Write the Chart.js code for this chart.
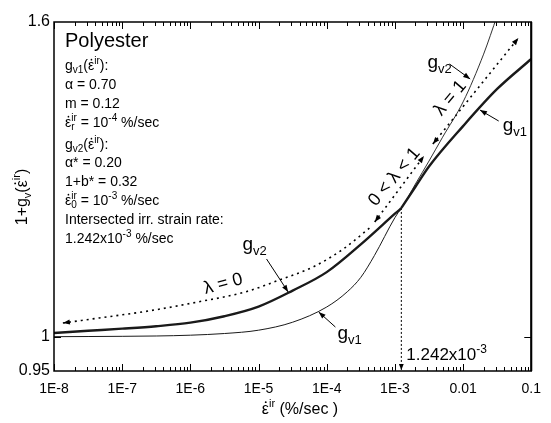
<!DOCTYPE html>
<html lang="en">
<head>
<meta charset="UTF-8">
<title>Polyester g_v</title>
<style>
  body { margin: 0; background: #fff; }
  #wrap { width: 551px; height: 423px; }
</style>
</head>
<body>
<div id="wrap"><canvas id="myChart" width="551" height="423"></canvas></div>
<script src="https://cdn.jsdelivr.net/npm/chart.js@4.4.1/dist/chart.umd.min.js"></script>
<script>
// axis ticks
const xTickValues = [1e-8, 1e-7, 1e-6, 1e-5, 1e-4, 1e-3, 1e-2, 1e-1];
const xTickLabels = ['1E-8', '1E-7', '1E-6', '1E-5', '1E-4', '1E-3', '0.01', '0.1'];
const yTickValues = [0.95, 1, 1.6];
const yTickLabels = ['0.95', '1', '1.6'];

// g_v1 (thin below the intersection, thick above it)
const gv1Rates = [1e-8, 3.16e-8, 1e-7, 3.16e-7, 1e-6, 3.16e-6, 1e-5, 3.16e-5, 1e-4, 2e-4, 3.16e-4, 5e-4, 1e-3, 1.242e-3, 2e-3, 3.16e-3, 1e-2, 3.16e-2, 1e-1];
const gv1Values = [1.0000, 1.0002, 1.0005, 1.0010, 1.0022, 1.0047, 1.0097, 1.0218, 1.0453, 1.0693, 1.0926, 1.1287, 1.1946, 1.2120, 1.2510, 1.2893, 1.3696, 1.4477, 1.5140];

// g_v2 (thick below the intersection, thin above it)
const gv2Rates = [1e-8, 3.16e-8, 1e-7, 3.16e-7, 1e-6, 3.16e-6, 1e-5, 3.16e-5, 1e-4, 3.16e-4, 1e-3, 1.242e-3, 2e-3, 3.16e-3, 5e-3, 1e-2, 2e-2, 3.16e-2];
const gv2Values = [1.0055, 1.0088, 1.0120, 1.0157, 1.0211, 1.0310, 1.0459, 1.0712, 1.1012, 1.1478, 1.2017, 1.2120, 1.2561, 1.2999, 1.3470, 1.4200, 1.5250, 1.6150];

// dotted lambda arrows
const lambda0Rates = [1.35e-8, 4.61e-8, 2.43e-7, 1.28e-6, 6.73e-6, 2.02e-5, 6.24e-5, 1.75e-4, 4.43e-4];
const lambda0Values = [1.0206, 1.0283, 1.0391, 1.0531, 1.0698, 1.0884, 1.1095, 1.1399, 1.1780];
const lambdaMidRates = [5.06e-4, 2.67e-3];
const lambdaMidValues = [1.1869, 1.3097];
const lambda1Rates = [3.60e-3, 6.47e-2];
const lambda1Values = [1.3335, 1.5621];

// intersection
const crossRate = 1.242e-3;
const crossValue = 1.212;

// curve labels with pointer arrows: [subscript, tail rate, tail value, head rate, head value]
const pointers = [
    ['v2', 1.31e-5, 1.1230, 2.72e-5, 1.0690],
    ['v1', 1.34e-4, 1.0145, 7.62e-5, 1.0375],
    ['v2', 6.32e-3, 1.5027, 1.27e-2, 1.4694],
    ['v1', 3.33e-2, 1.3800, 1.77e-2, 1.4028]
];
const pointerOffsets = [[-24, -9], [2, 12], [-22, 4], [4, 10]];

const FONT = "'Liberation Sans', Arial, sans-serif";

function pairs(xs, ys) {
    return xs.map((x, i) => ({x: x, y: ys[i]}));
}

// draws text made of parts [text, mode]; mode '' | 'sup' | 'sub' | 'dot', a '*' suffix stacks with the next part
function rich(ctx, x, y, parts, size, align) {
    const small = Math.round(size * 0.68);
    const items = parts.map(p => {
        const mode = p[1] || '';
        const fs = (mode.startsWith('sup') || mode.startsWith('sub')) ? small : size;
        ctx.font = fs + 'px ' + FONT;
        return {t: p[0], mode: mode, fs: fs, w: ctx.measureText(p[0]).width};
    });
    let total = 0, hold = 0;
    items.forEach(it => {
        if (it.mode.endsWith('*')) { hold = it.w; }
        else { total += Math.max(it.w, hold); hold = 0; }
    });
    let cx = align === 'center' ? x - total / 2 : x;
    hold = 0;
    ctx.textAlign = 'left';
    ctx.textBaseline = 'alphabetic';
    items.forEach(it => {
        ctx.font = it.fs + 'px ' + FONT;
        let dy = 0;
        if (it.mode.startsWith('sup')) dy = -size * 0.42;
        if (it.mode.startsWith('sub')) dy = size * 0.24;
        ctx.fillText(it.t, cx, y + dy);
        if (it.mode === 'dot') {
            ctx.beginPath();
            ctx.arc(cx + it.w * 0.55, y - size * 0.74, Math.max(0.8, size * 0.06), 0, Math.PI * 2);
            ctx.fill();
        }
        if (it.mode.endsWith('*')) { hold = it.w; }
        else { cx += Math.max(it.w, hold); hold = 0; }
    });
}

function arrowHead(ctx, fx, fy, tx, ty, len, half) {
    const a = Math.atan2(ty - fy, tx - fx);
    ctx.beginPath();
    ctx.moveTo(tx, ty);
    ctx.lineTo(tx - len * Math.cos(a) + half * Math.sin(a), ty - len * Math.sin(a) - half * Math.cos(a));
    ctx.lineTo(tx - len * Math.cos(a) - half * Math.sin(a), ty - len * Math.sin(a) + half * Math.cos(a));
    ctx.closePath();
    ctx.fill();
}

const decor = {
    id: 'decor',
    beforeDraw(chart) {
        const ctx = chart.ctx;
        ctx.save();
        ctx.fillStyle = '#fff';
        ctx.fillRect(0, 0, chart.width, chart.height);
        ctx.restore();
    },
    afterDraw(chart) {
        const ctx = chart.ctx;
        const xs = chart.scales.x, ys = chart.scales.y;
        const a = chart.chartArea;
        const P = (x, y) => [xs.getPixelForValue(x), ys.getPixelForValue(y)];
        ctx.save();
        ctx.strokeStyle = '#000';
        ctx.fillStyle = '#000';

        // frame
        ctx.lineWidth = 1.5;
        ctx.strokeRect(a.left, a.top, a.right - a.left, a.bottom - a.top);
        ctx.lineWidth = 2;
        ctx.beginPath();
        ctx.moveTo(a.right, a.top);
        ctx.lineTo(a.right, a.bottom);
        ctx.stroke();

        // x ticks, inward, bottom and top
        ctx.lineWidth = 1;
        ctx.beginPath();
        for (let d = -8; d <= -1; d++) {
            for (let k = 1; k <= 9; k++) {
                const v = k * Math.pow(10, d);
                if (v > 0.1001) break;
                const px = Math.round(xs.getPixelForValue(v)) + 0.5;
                const len = k === 1 ? 7 : 4;
                ctx.moveTo(px, a.bottom); ctx.lineTo(px, a.bottom - len);
                ctx.moveTo(px, a.top); ctx.lineTo(px, a.top + len);
            }
        }
        // y tick at 1
        const py1 = Math.round(ys.getPixelForValue(1)) + 0.5;
        ctx.moveTo(a.left, py1); ctx.lineTo(a.left + 7, py1);
        ctx.moveTo(a.right, py1); ctx.lineTo(a.right - 7, py1);
        ctx.stroke();

        // arrowheads on the dotted lambda lines
        const headsOf = (rates, vals, both) => {
            const n = rates.length;
            const p0 = P(rates[0], vals[0]), p1 = P(rates[1], vals[1]);
            arrowHead(ctx, p1[0], p1[1], p0[0], p0[1], 7, 2.6);
            if (both) {
                const q0 = P(rates[n - 1], vals[n - 1]), q1 = P(rates[n - 2], vals[n - 2]);
                arrowHead(ctx, q1[0], q1[1], q0[0], q0[1], 7, 2.6);
            }
        };
        headsOf(lambda0Rates, lambda0Values, false);
        headsOf(lambdaMidRates, lambdaMidValues, true);
        headsOf(lambda1Rates, lambda1Values, true);

        // arrow on the vertical dashed line
        const vx = xs.getPixelForValue(crossRate);
        arrowHead(ctx, vx, a.bottom - 20, vx, a.bottom - 1, 6, 2.4);

        // pointer arrows with g labels
        pointers.forEach((p, i) => {
            const t = P(p[1], p[2]), h = P(p[3], p[4]);
            ctx.lineWidth = 1;
            ctx.beginPath();
            ctx.moveTo(t[0], t[1]);
            ctx.lineTo(h[0], h[1]);
            ctx.stroke();
            arrowHead(ctx, t[0], t[1], h[0], h[1], 7, 2.6);
            const o = pointerOffsets[i];
            rich(ctx, t[0] + o[0], t[1] + o[1], [['g'], [p[0], 'sub']], 19);
        });

        // lambda labels
        const rotLabel = (rate, val, deg, text) => {
            const c = P(rate, val);
            ctx.save();
            ctx.translate(c[0], c[1]);
            ctx.rotate(deg * Math.PI / 180);
            ctx.font = '18px ' + FONT;
            ctx.textAlign = 'center';
            ctx.textBaseline = 'middle';
            ctx.fillText(text, 0, 0);
            ctx.restore();
        };
        rotLabel(3.03e-6, 1.0818, -15, 'λ = 0');
        rotLabel(9.84e-4, 1.2693, -50, '0 < λ < 1');
        rotLabel(6.53e-3, 1.4280, -50, 'λ = 1');

        // intersection value
        rich(ctx, vx + 5, a.bottom - 11, [['1.242x10'], ['-3', 'sup']], 17);

        // parameter block
        const lx = a.left + 11;
        ctx.font = '20px ' + FONT;
        ctx.fillText('Polyester', lx, 47);
        const fs = 14;
        rich(ctx, lx, 70, [['g'], ['v1', 'sub'], ['('], ['ε', 'dot'], ['ir', 'sup'], ['):']], fs);
        rich(ctx, lx, 89, [['α = 0.70']], fs);
        rich(ctx, lx, 108, [['m = 0.12']], fs);
        rich(ctx, lx, 127, [['ε', 'dot'], ['ir', 'sup*'], ['r', 'sub'], [' = 10'], ['-4', 'sup'], [' %/sec']], fs);
        rich(ctx, lx, 149, [['g'], ['v2', 'sub'], ['('], ['ε', 'dot'], ['ir', 'sup'], ['):']], fs);
        rich(ctx, lx, 167, [['α* = 0.20']], fs);
        rich(ctx, lx, 186, [['1+b* = 0.32']], fs);
        rich(ctx, lx, 205, [['ε', 'dot'], ['ir', 'sup*'], ['0', 'sub'], [' = 10'], ['-3', 'sup'], [' %/sec']], fs);
        rich(ctx, lx, 224, [['Intersected irr. strain rate:']], fs);
        rich(ctx, lx, 243, [['1.242x10'], ['-3', 'sup'], [' %/sec']], fs);

        // axis titles
        rich(ctx, 300, 414, [['ε', 'dot'], ['ir', 'sup'], [' (%/sec )']], 16, 'center');
        ctx.save();
        ctx.translate(27, 197);
        ctx.rotate(-Math.PI / 2);
        rich(ctx, 0, 0, [['1+g'], ['v', 'sub'], ['('], ['ε', 'dot'], ['ir', 'sup'], [')']], 16, 'center');
        ctx.restore();

        ctx.restore();
    }
};

const gv1Thick = ctx => ctx.p0.parsed.x >= crossRate * 0.999 ? 2.4 : 1;
const gv2Thick = ctx => ctx.p1.parsed.x <= crossRate * 1.001 ? 2.4 : 0.9;

const ctx = document.getElementById('myChart').getContext('2d');
const myChart = new Chart(ctx, {
    type: 'line',
    data: {
        datasets: [
            {
                label: 'g_v1',
                data: pairs(gv1Rates, gv1Values),
                borderColor: '#1a1a1a',
                borderWidth: 1,
                cubicInterpolationMode: 'monotone',
                pointRadius: 0,
                segment: {borderWidth: gv1Thick}
            },
            {
                label: 'g_v2',
                data: pairs(gv2Rates, gv2Values),
                borderColor: '#1a1a1a',
                borderWidth: 1,
                cubicInterpolationMode: 'monotone',
                pointRadius: 0,
                segment: {borderWidth: gv2Thick}
            },
            {
                label: 'lambda = 0',
                data: pairs(lambda0Rates, lambda0Values),
                borderColor: '#000',
                borderWidth: 1.6,
                borderDash: [2, 4],
                cubicInterpolationMode: 'monotone',
                pointRadius: 0
            },
            {
                label: '0 < lambda < 1',
                data: pairs(lambdaMidRates, lambdaMidValues),
                borderColor: '#000',
                borderWidth: 1.6,
                borderDash: [2, 4],
                pointRadius: 0
            },
            {
                label: 'lambda = 1',
                data: pairs(lambda1Rates, lambda1Values),
                borderColor: '#000',
                borderWidth: 1.6,
                borderDash: [2, 4],
                pointRadius: 0
            },
            {
                label: 'intersection',
                data: [{x: crossRate, y: crossValue}, {x: crossRate, y: 0.95}],
                borderColor: '#000',
                borderWidth: 1,
                borderDash: [2, 2],
                pointRadius: 0
            }
        ]
    },
    options: {
        responsive: false,
        animation: false,
        devicePixelRatio: 1,
        layout: {padding: {left: 0, right: 12, top: 22, bottom: 0}},
        plugins: {
            legend: {display: false},
            tooltip: {enabled: false}
        },
        scales: {
            x: {
                type: 'logarithmic',
                min: 1e-8,
                max: 0.1,
                grid: {display: false, drawTicks: false},
                border: {display: false},
                afterBuildTicks: s => { s.ticks = xTickValues.map(v => ({value: v})); },
                afterFit: s => { s.height = 52; },
                ticks: {
                    autoSkip: false,
                    maxRotation: 0,
                    padding: 10,
                    color: '#000',
                    font: {family: FONT, size: 14},
                    callback: (v, i) => xTickLabels[i]
                }
            },
            y: {
                type: 'logarithmic',
                min: 0.95,
                max: 1.6,
                grid: {display: false, drawTicks: false},
                border: {display: false},
                afterBuildTicks: s => { s.ticks = yTickValues.map(v => ({value: v})); },
                afterFit: s => { s.width = 54; },
                ticks: {
                    autoSkip: false,
                    padding: 4,
                    color: '#000',
                    font: {family: FONT, size: 16},
                    callback: (v, i) => yTickLabels[i]
                }
            }
        }
    },
    plugins: [decor]
});
</script>
</body>
</html>
